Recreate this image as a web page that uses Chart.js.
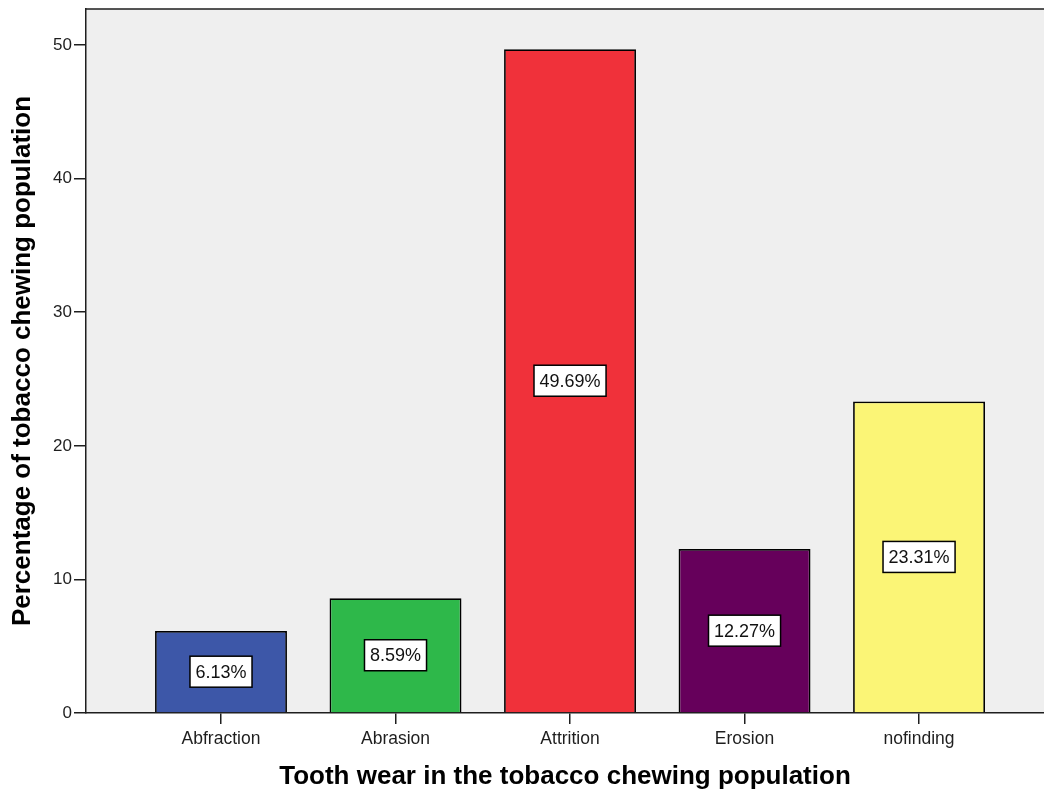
<!DOCTYPE html>
<html>
<head>
<meta charset="utf-8">
<title>Tooth wear in the tobacco chewing population</title>
<script src="https://cdn.jsdelivr.net/npm/chart.js@4.4.1/dist/chart.umd.min.js"></script>
<style>
  html, body { margin: 0; padding: 0; background: #ffffff; }
  #wrap { width: 1044px; height: 794px; }
  canvas { display: block; }
</style>
</head>
<body>
<div id="wrap"><canvas id="chart" width="1044" height="794"></canvas></div>
<script>
// Tooth wear categories and their share of the tobacco chewing population (%)
const categories = ['Abfraction', 'Abrasion', 'Attrition', 'Erosion', 'nofinding'];
const percentages = [6.13, 8.59, 49.69, 12.27, 23.31];
const barColors = ['#3d57a8', '#2eb84a', '#f0313a', '#66005b', '#fbf576'];
const yTicks = [0, 10, 20, 30, 40, 50];

const FONT = "'Liberation Sans', Arial, Helvetica, sans-serif";
const INK = '#1e1e1e';

// Grey plot panel and its top frame line
const panelPlugin = {
  id: 'panel',
  beforeDraw(chart) {
    const { ctx, chartArea: a } = chart;
    ctx.save();
    ctx.fillStyle = '#efefef';
    ctx.fillRect(a.left, a.top, a.right - a.left, a.bottom - a.top);
    ctx.restore();
  },
  afterDraw(chart) {
    const { ctx, chartArea: a } = chart;
    ctx.save();
    ctx.strokeStyle = INK;
    ctx.lineWidth = 1.5;
    ctx.beginPath();
    ctx.moveTo(a.left - 0.75, a.top);
    ctx.lineTo(a.right, a.top);
    ctx.stroke();
    ctx.restore();
  }
};

// Boxed percentage label in the middle of each bar
const valueBoxPlugin = {
  id: 'valueBox',
  afterDatasetsDraw(chart) {
    const { ctx } = chart;
    const meta = chart.getDatasetMeta(0);
    ctx.save();
    ctx.font = '18px ' + FONT;
    ctx.textAlign = 'center';
    ctx.textBaseline = 'middle';
    meta.data.forEach((bar, i) => {
      const { x, y, base } = bar.getProps(['x', 'y', 'base'], true);
      const cy = (y + base) / 2;
      const text = percentages[i].toFixed(2) + '%';
      const w = ctx.measureText(text).width + 11;
      const h = 31;
      ctx.fillStyle = '#ffffff';
      ctx.fillRect(x - w / 2, cy - h / 2, w, h);
      ctx.strokeStyle = '#000000';
      ctx.lineWidth = 1.5;
      ctx.strokeRect(x - w / 2, cy - h / 2, w, h);
      ctx.fillStyle = '#111111';
      ctx.fillText(text, x, cy + 1);
    });
    ctx.restore();
  }
};

new Chart(document.getElementById('chart'), {
  type: 'bar',
  data: {
    datasets: [{
      data: percentages.map((v, i) => ({ x: i, y: v })),
      backgroundColor: barColors,
      borderColor: '#000000',
      borderWidth: 1.75,
      categoryPercentage: 1,
      barPercentage: 0.756
    }]
  },
  options: {
    responsive: false,
    devicePixelRatio: 1,
    animation: false,
    layout: { padding: { top: 9, right: 0, bottom: 0, left: 0 } },
    plugins: {
      legend: { display: false },
      tooltip: { enabled: false }
    },
    scales: {
      x: {
        type: 'linear',
        offset: false,
        min: -0.7736,
        max: 4.716,
        afterBuildTicks(scale) {
          scale.ticks = categories.map((c, i) => ({ value: i }));
        },
        afterFit(scale) {
          scale.height = 81;
          scale.paddingLeft = 0;
          scale.paddingRight = 0;
        },
        ticks: {
          autoSkip: false,
          maxRotation: 0,
          padding: 5,
          color: INK,
          font: { family: FONT, size: 17.5 },
          callback: (v) => categories[v]
        },
        grid: {
          display: true,
          offset: false,
          drawOnChartArea: false,
          drawTicks: true,
          tickLength: 11,
          color: INK,
          lineWidth: 1.5
        },
        border: { display: true, color: INK, width: 1.5 },
        title: {
          display: true,
          text: 'Tooth wear in the tobacco chewing population',
          color: '#000000',
          font: { family: FONT, size: 26, weight: 'bold' },
          padding: { top: 0, bottom: 2 }
        }
      },
      y: {
        min: 0,
        max: 52.7,
        afterBuildTicks(scale) {
          scale.ticks = yTicks.map(v => ({ value: v }));
        },
        afterFit(scale) {
          scale.width = 86;
          scale.paddingTop = 0;
          scale.paddingBottom = 0;
        },
        ticks: {
          padding: 2,
          color: INK,
          font: { family: FONT, size: 17 }
        },
        grid: {
          display: true,
          drawOnChartArea: false,
          drawTicks: true,
          tickLength: 12,
          color: INK,
          lineWidth: 1.5
        },
        border: { display: true, color: INK, width: 1.5 },
        title: {
          display: true,
          text: 'Percentage of tobacco chewing population',
          color: '#000000',
          font: { family: FONT, size: 26, weight: 'bold' },
          padding: { top: 7, bottom: 0 }
        }
      }
    }
  },
  plugins: [panelPlugin, valueBoxPlugin]
});
</script>
</body>
</html>
